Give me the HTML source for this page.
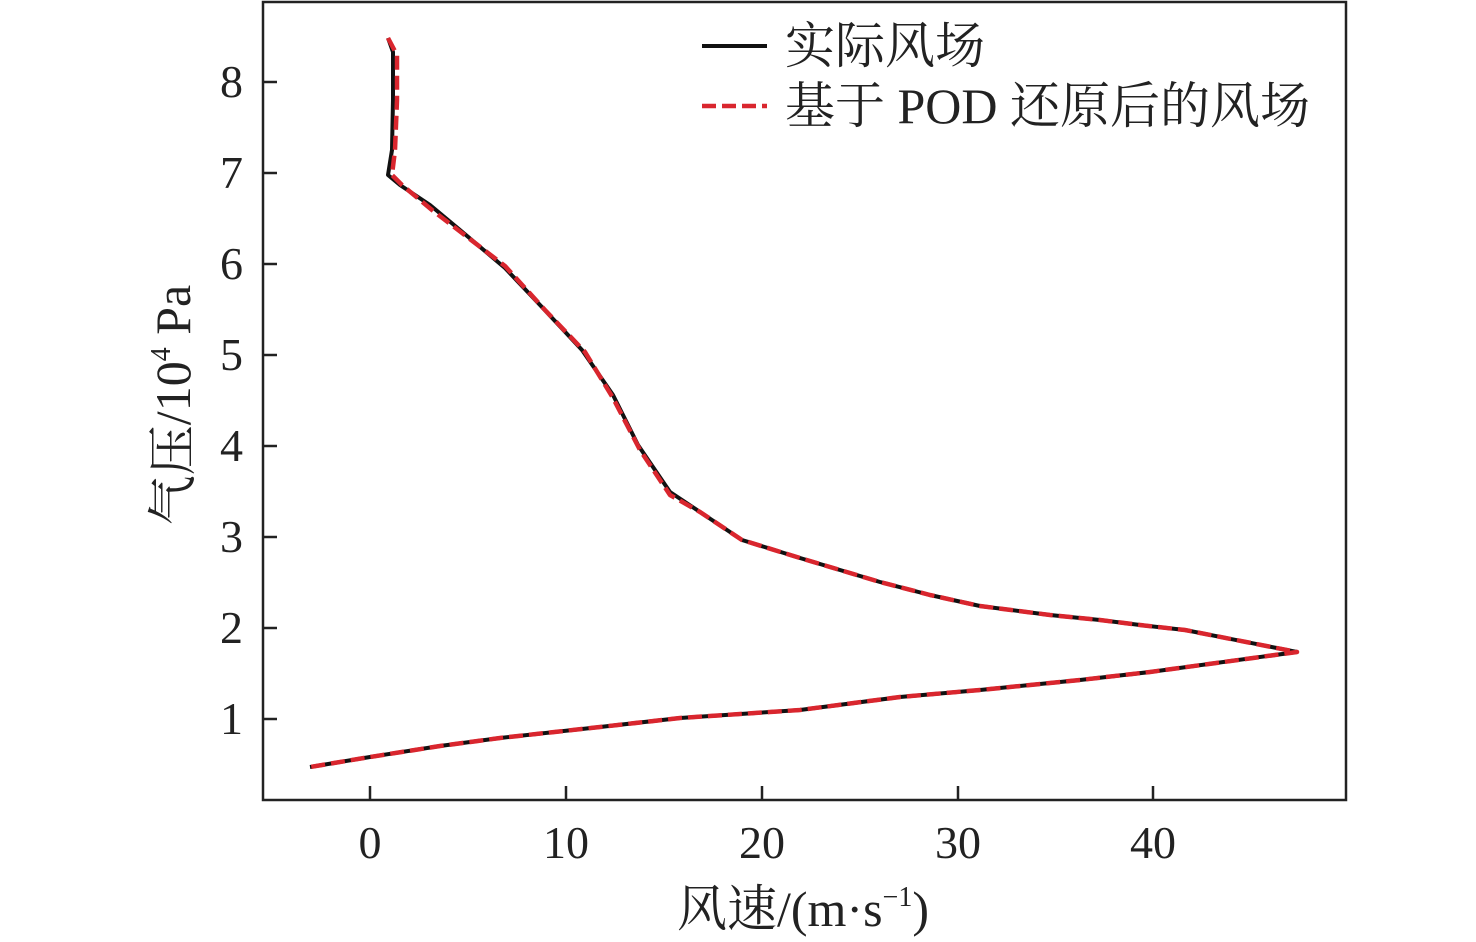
<!DOCTYPE html>
<html><head><meta charset="utf-8"><style>body{margin:0;background:#fff}svg{display:block}</style></head>
<body>
<svg width="1476" height="942" xmlns="http://www.w3.org/2000/svg" font-family="'Liberation Serif','Noto Serif CJK SC',serif">
<rect x="263" y="2" width="1083" height="798" fill="none" stroke="#222" stroke-width="2.5"/>
<g stroke="#222" stroke-width="2.5">
<line x1="370" y1="800" x2="370" y2="786"/><line x1="566" y1="800" x2="566" y2="786"/><line x1="762" y1="800" x2="762" y2="786"/><line x1="958" y1="800" x2="958" y2="786"/><line x1="1153" y1="800" x2="1153" y2="786"/>
<line x1="263" y1="82" x2="277" y2="82"/><line x1="263" y1="173" x2="277" y2="173"/><line x1="263" y1="264" x2="277" y2="264"/><line x1="263" y1="355" x2="277" y2="355"/><line x1="263" y1="446" x2="277" y2="446"/><line x1="263" y1="537" x2="277" y2="537"/><line x1="263" y1="628" x2="277" y2="628"/><line x1="263" y1="719" x2="277" y2="719"/>
</g>
<g font-size="46" fill="#222" text-anchor="middle">
<text x="370" y="858">0</text><text x="566" y="858">10</text><text x="762" y="858">20</text><text x="958" y="858">30</text><text x="1153" y="858">40</text>
</g>
<g font-size="46" fill="#222" text-anchor="end">
<text x="243" y="97">8</text><text x="243" y="188">7</text><text x="243" y="279">6</text><text x="243" y="370">5</text><text x="243" y="461">4</text><text x="243" y="552">3</text><text x="243" y="643">2</text><text x="243" y="734">1</text>
</g>
<text x="803" y="926" font-size="50" fill="#222" text-anchor="middle">风速/(m·s<tspan font-size="28" dy="-20">−1</tspan><tspan dy="20">)</tspan></text>
<text transform="translate(190,405) rotate(-90)" font-size="50" fill="#222" text-anchor="middle">气压/10<tspan font-size="28" dy="-20">4</tspan><tspan dy="20"> Pa</tspan></text>
<g fill="none" stroke-linejoin="round">
<polyline stroke="#111" stroke-width="4" points="388,38 393,52 393,100 392,150 388,175 400,185 430,205 460,230 505,268 540,305 582,350 613,395 638,445 670,492 700,512 742,540 800,558 880,582 930,595 980,606 1050,615 1100,620 1140,625 1185,630 1297,652 1150,672 1080,680 980,690 900,697 800,710 680,718 600,727 500,738 440,746 370,757 310,767"/>
<polyline stroke="#d9262e" stroke-width="4.5" stroke-dasharray="14,6" points="388,38 397,55 397,100 395,150 392,175 402,185 432,210 462,233 505,266 545,310 585,352 613,398 640,450 670,495 700,512 742,540 800,558 880,582 930,595 980,606 1050,615 1100,620 1140,625 1185,630 1297,652 1150,672 1080,680 980,690 900,697 800,710 680,718 600,727 500,738 440,746 370,757 310,767"/>
</g>
<line x1="702" y1="46" x2="767" y2="46" stroke="#111" stroke-width="4"/>
<line x1="702" y1="106" x2="767" y2="106" stroke="#d9262e" stroke-width="4.5" stroke-dasharray="14,6"/>
<g font-size="50" fill="#222">
<text x="785" y="63">实际风场</text>
<text x="785" y="123">基于 POD 还原后的风场</text>
</g>
</svg>
</body></html>
